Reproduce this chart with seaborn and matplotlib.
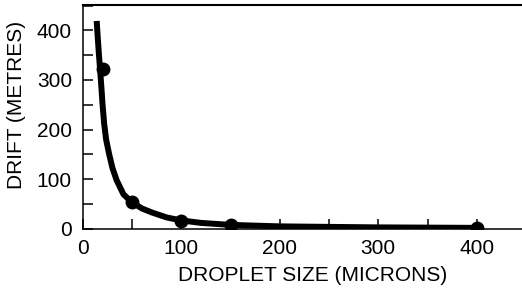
import matplotlib
matplotlib.use("Agg")
import matplotlib.pyplot as plt
from matplotlib.ticker import MultipleLocator
import seaborn as sns
import pandas as pd

# measured droplets
droplet_size = [20, 50, 100, 150, 400]
drift = [322, 54, 16, 7, 2]

# fitted curve
curve_size = [13.9, 15, 16.2, 17.5, 18.8, 19.8, 21.5, 23.5, 26.4, 30, 34.2, 41,
              49.4, 60, 70, 85, 100, 120, 150, 200, 250, 300, 400]
curve_drift = [419, 385, 351, 318, 282, 252, 212, 180, 152, 122, 98, 70,
               54, 41, 33, 23, 17, 12, 8, 5, 4, 3, 2]

x_ticks = [0, 100, 200, 300, 400]
y_ticks = [0, 100, 200, 300, 400]

sns.set_theme(style="ticks")
plt.rcParams["font.family"] = ["Liberation Sans", "DejaVu Sans"]

points = pd.DataFrame({"size": droplet_size, "drift": drift})
curve = pd.DataFrame({"size": curve_size, "drift": curve_drift})

fig = plt.figure(figsize=(5.22, 2.98), dpi=100)
ax = fig.add_axes([0.159, 0.232, 0.841, 0.751])

sns.lineplot(data=curve, x="size", y="drift", ax=ax, color="black",
             linewidth=4.3, sort=False, solid_capstyle="butt",
             solid_joinstyle="round", zorder=3)
sns.scatterplot(data=points, x="size", y="drift", ax=ax, color="black",
                s=100, edgecolor="black", linewidth=0, zorder=4)

ax.set_xlim(0, 446)
ax.set_ylim(0, 451)
ax.set_xticks(x_ticks)
ax.set_yticks(y_ticks)
ax.xaxis.set_minor_locator(MultipleLocator(50))
ax.yaxis.set_minor_locator(MultipleLocator(50))
ax.tick_params(which="both", direction="in", length=7, width=1.1, colors="black")
ax.tick_params(which="major", labelsize=15)
ax.tick_params(axis="y", which="major", pad=8)
ax.tick_params(axis="x", which="major", pad=7)

ax.spines["right"].set_visible(False)
for s in ["left", "bottom"]:
    ax.spines[s].set_linewidth(1.1)
ax.spines["top"].set_linewidth(1.5)
for s in ax.spines.values():
    s.set_color("black")

ax.set_xlabel("DROPLET SIZE (MICRONS)", fontsize=15, color="black")
ax.set_ylabel("DRIFT (METRES)", fontsize=15, color="black")
ax.xaxis.set_label_coords(0.523, -0.165)
ax.yaxis.set_label_coords(-0.13, 0.553)

fig.savefig("out.png", dpi=100, facecolor="white")
